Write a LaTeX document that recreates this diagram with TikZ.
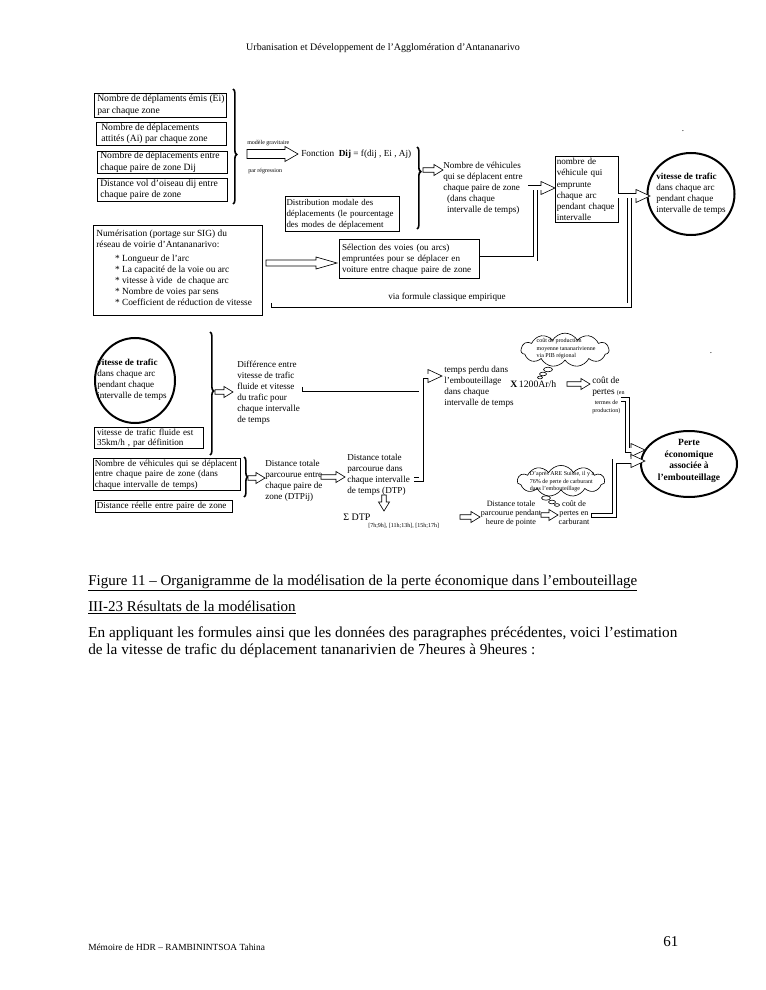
\documentclass[tikz,border=0pt]{standalone}
\usepackage{fontspec}
\setmainfont{Liberation Serif}
\usetikzlibrary{decorations.pathreplacing,shapes.geometric,shapes.symbols}
\newcommand\dg{\fontsize{7.3}{8.8}\selectfont}
\newcommand\tb{\fontsize{7.7}{9.2}\selectfont}
\newcommand\tn{\fontsize{4.8}{6}\selectfont}
\newcommand\bd{\fontsize{12}{14}\selectfont}
\newcommand\sarr[3]{\draw[fill=white,line width=0.5pt,shift={#1},rotate=#3] (0,-2.3) -- ({#2-9},-2.3) -- ({#2-9},-5.5) -- (#2,0) -- ({#2-9},5.5) -- ({#2-9},2.3) -- (0,2.3) -- cycle;}
\newcommand\ahead[2]{\draw[fill=white,line width=0.5pt,shift={#1},rotate=#2] (0,-2.2) -- (0,-6.5) -- (14,0) -- (0,6.5) -- (0,2.2);}
\tikzset{
 box/.style={draw, line width=0.8pt, anchor=north west, inner xsep=2pt, inner ysep=0pt, align=left, font=\dg},
 frame/.style={draw, line width=0.8pt, anchor=north west, inner sep=0pt},
 txt/.style={anchor=north west, inner sep=0pt, align=left, font=\dg},
 pipe/.style={double=white, double distance=3pt, line width=0.5pt},
 brc/.style={decorate, line width=1.3pt},
 bubble/.style={draw, line width=0.9pt, ellipse, inner sep=0pt},
 thought/.style={draw, line width=0.5pt, cloud, cloud puffs=11, cloud puff arc=120, inner sep=0pt},
}
\begin{document}
\begin{tikzpicture}[x=0.8pt,y=-0.8pt]
\useasboundingbox[fill=white] (0,0) rectangle (765,990);

% header
\node[font=\fontsize{8}{9}\selectfont, inner sep=0] (hdr) at (383,48) {Urbanisation et Développement de l'Agglomération d'Antananarivo};

% ---------- upper chart ----------
\node[frame, minimum width=105.6pt, minimum height=19.2pt] (b1) at (94,93) {};
\node[txt, anchor=west, font=\tb] (b1t) at (97,105) {Nombre de déplaments émis (Ei)\\par chaque zone};
\node[frame, minimum width=104pt, minimum height=18.4pt] (b2) at (96,122) {};
\node[txt, anchor=west, font=\tb] (b2t) at (101,133.5) {Nombre de déplacements\\attités (Ai) par chaque zone};
\node[frame, minimum width=104pt, minimum height=17.6pt] (b3) at (97,151) {};
\node[txt, anchor=west, font=\tb] (b3t) at (100,162) {Nombre de déplacements entre\\chaque paire de zone Dij};
\node[frame, minimum width=104pt, minimum height=18.4pt] (b4) at (97,178) {};
\node[txt, anchor=west, font=\tb] (b4t) at (100,189.5) {Distance vol d'oiseau dij entre\\chaque paire de zone};

\draw[brc, decoration={brace, amplitude=3pt, aspect=0.57}] (233,89) -- (233,204);

\node[font=\tn, anchor=west, inner sep=0] (mg) at (247,143) {modèle gravitaire};
\node[font=\tn, anchor=west, inner sep=0] (pr) at (248,171) {par régression};
\draw[fill=white, line width=0.5pt] (247,149.5) -- (285,149.5) -- (285,146.5) -- (298,154) -- (285,161.5) -- (285,158.5) -- (247,158.5) -- cycle;
\node[txt, anchor=west, font=\fontsize{7.4}{9}\selectfont] (fn) at (301,154) {Fonction\ \ \textbf{Dij} = f(dij , Ei , Aj)};

\node[box, minimum width=91.2pt, text width=89.6pt, inner xsep=0.8pt, minimum height=28pt, font=\fontsize{7.1}{8.8}\selectfont] (dm) at (285,196) {Distribution modale des\\déplacements (le pourcentage\\des modes de déplacement};

\draw[brc, decoration={brace, amplitude=3pt, aspect=0.3}] (417,147) -- (417,229);
\sarr{(423,170)}{20}{0}

\node[txt] (nv) at (443,161.7) {Nombre de véhicules\\qui se déplacent entre\\chaque paire de zone\\\hspace*{3pt}(dans chaque\\\hspace*{3pt}intervalle de temps)};

\node[box, minimum width=50.4pt, text width=48.4pt, inner xsep=1pt, minimum height=52.8pt, font=\fontsize{7.3}{8.9}\selectfont] (nbv) at (555,156) {nombre de\\véhicule qui\\emprunte\\chaque arc\\pendant chaque\\intervalle};

\node[bubble, line width=1.6pt, minimum width=69.6pt, minimum height=65.6pt] (c1) at (691,194) {};
\node[font=\dg, align=left, inner sep=0] (c1t) at (691,193.5) {\textbf{vitesse de trafic}\\dans chaque arc\\pendant chaque\\intervalle de temps};

\node[frame, minimum width=135.2pt, minimum height=72pt] (num) at (93,225) {};
\node[txt, font=\fontsize{7.5}{8.8}\selectfont] (numt) at (96,229.5) {Numérisation (portage sur SIG) du\\réseau de voirie d'Antananarivo:\\[2.5pt]
\hspace*{15pt}* Longueur de l'arc\\\hspace*{15pt}* La capacité de la voie ou arc\\\hspace*{15pt}* vitesse à vide\ \ de chaque arc\\\hspace*{15pt}* Nombre de voies par sens\\\hspace*{15pt}* Coefficient de réduction de vitesse};

\draw[fill=white, line width=0.5pt] (266,260) -- (316,260) -- (316,257) -- (337,263) -- (316,269) -- (316,266) -- (266,266) -- cycle;

\node[box, minimum width=112pt, text width=108pt, minimum height=31.2pt] (sel) at (339,239) {Sélection des voies (ou arcs)\\empruntées pour se déplacer en\\voiture entre chaque paire de zone};

\node[font=\dg, inner sep=0] (via) at (447,297) {via formule classique empirique};

% pipes upper
\coordinate (ja) at (535.5,188);
\coordinate (jb) at (629.5,196);
\draw[pipe] (528,188) -- (541,188) (sel.east) -| (ja);
\ahead{(541,188)}{0}
\draw[pipe] (618,196) -- (636,196) (271,305) -| (jb);
\draw[line width=0.5pt] (271,302.8) -- (271,307.2);
\ahead{(636,196)}{0}

\node[font=\dg, inner sep=0] (dot1) at (683,131) {.};

% ---------- lower chart ----------
\node[bubble, line width=1.6pt, minimum width=64pt, minimum height=68pt] (c2) at (135,380.5) {};
\node[txt] (c2t) at (97,358.7) {\textbf{vitesse de trafic}\\dans chaque arc\\pendant chaque\\intervalle de temps};

\node[box, minimum width=87.2pt, text width=83.2pt, minimum height=16.8pt, font=\fontsize{7.3}{8}\selectfont] (vf) at (94,427) {vitesse de trafic fluide est\\35km/h , par définition};

\draw[brc, decoration={brace, amplitude=3pt, aspect=0.48}] (210,332) -- (210,455);
\sarr{(215,392)}{18}{0}

\node[txt] (df) at (237,360.7) {Différence entre\\vitesse de trafic\\fluide et vitesse\\du trafic pour\\chaque intervalle\\de temps};

\node[txt] (tp) at (444,365.7) {temps perdu dans\\l'embouteillage\\dans chaque\\intervalle de temps};

\node[thought, minimum width=70.4pt, minimum height=27pt] (cl1) at (565,350) {};
\node[font=\tn, align=left, inner sep=0] (cl1t) at (566,349) {coût de production\\moyenne tananarivienne\\via PIB régional};
\draw[line width=0.5pt] (548,369.5) ellipse (4.5 and 2.3);
\draw[line width=0.5pt] (543,374) ellipse (3.5 and 1.8);
\draw[line width=0.5pt] (540,377.5) ellipse (2.5 and 1.4);

\node[font=\fontsize{7.8}{9}\selectfont, anchor=west, inner sep=0] (x12) at (510,384) {\textbf{X}\,1200Ar/h};
\sarr{(567,384)}{23}{0}
\node[txt, font=\fontsize{7.5}{9}\selectfont] (cp) at (592,376.7) {coût de\\pertes {\tn (en}\\[-1.5pt]{\tn\hspace*{2pt}termes de}\\[-2pt]{\tn production)}};

\node[bubble, line width=1.6pt, minimum width=76.8pt, minimum height=52.8pt] (pe) at (689,464) {};
\node[font=\fontsize{7.6}{9.3}\selectfont\bfseries, align=center, inner sep=0] (pet) at (689,461) {Perte\\économique\\associée à\\l'embouteillage};

\node[font=\dg, inner sep=0] (dot2) at (711,353) {.};

\node[box, minimum width=117.6pt, text width=115.6pt, inner xsep=1pt, minimum height=25.6pt, font=\fontsize{7.3}{8.4}\selectfont] (nvd) at (93,458) {Nombre de véhicules qui se déplacent\\entre chaque paire de zone (dans\\chaque intervalle de temps)};
\node[box, minimum width=109.6pt, text width=107.6pt, inner xsep=1pt, minimum height=9.6pt] (dr) at (95,500) {Distance réelle entre paire de zone};

\draw[brc, decoration={brace, amplitude=3pt, aspect=0.5}] (244,457) -- (244,497);
\sarr{(248,478)}{17}{0}
\node[txt] (dij) at (265,459.7) {Distance totale\\parcourue entre\\chaque paire de\\zone (DTPij)};
\sarr{(321,477)}{24}{0}
\node[txt] (dtp) at (347,453.7) {Distance totale\\parcourue dans\\chaque intervalle\\de temps (DTP)};

% pipes lower
\coordinate (jc) at (421,376);
\draw[pipe] (302,389) -- (421,389) (414,479.5) -| (jc) -- (428,376);
\draw[line width=0.5pt] (302,386.8) -- (302,391.2);
\ahead{(428,376)}{0}

\sarr{(384,495)}{16}{-90}
\node[font=\fontsize{8}{9}\selectfont, anchor=west, inner sep=0] (sig) at (343,517) {Σ DTP};
\node[font=\tn, anchor=west, inner sep=0] (brk) at (368,526) {[7h;9h], [11h;13h], [15h;17h]};
\sarr{(460,517)}{20}{0}

\node[thought, minimum width=70pt, minimum height=25pt] (cl2) at (561,481) {};
\node[font=\tn, align=left, inner sep=0] (cl2t) at (562,482) {D'après ARE Suisse, il y a\\76\% de perte de carburant\\dans l'embouteillage};
\draw[line width=0.5pt] (546,498) ellipse (4.5 and 2.2);
\draw[line width=0.5pt] (552,502) ellipse (3.5 and 1.8);
\draw[line width=0.5pt] (557,505) ellipse (2.5 and 1.4);

\node[txt, anchor=north, align=center, font=\fontsize{6.5}{7.3}\selectfont] (hp) at (511,500.5) {Distance totale\\parcourue pendant\\heure de pointe};
\sarr{(541,515)}{17}{0}
\node[txt, anchor=north, align=center, font=\fontsize{6.5}{7.3}\selectfont] (cc) at (574,500.5) {coût de\\pertes en\\carburant};

\coordinate (jd) at (627.5,450);
\coordinate (je) at (614.5,461);
\draw[pipe] (621,399.5) -| (jd) -- (631,450);
\ahead{(631,450)}{0}
\draw[pipe] (591,515.5) -| (je) -- (631,461);
\draw[line width=0.5pt] (591,513.3) -- (591,517.7);
\ahead{(631,461)}{0}

% ---------- text ----------
\node[font=\bd, anchor=base west, inner sep=0] (cap) at (88,585) {\underline{Figure 11 – Organigramme de la modélisation de la perte économique dans l’embouteillage}};
\node[font=\bd, anchor=base west, inner sep=0] (sec) at (88,611) {\underline{III-23 Résultats de la modélisation}};
\node[font=\fontsize{12.2}{14}\selectfont, anchor=base west, inner sep=0] (p1) at (88,637) {En appliquant les formules ainsi que les données des paragraphes précédentes, voici l’estimation};
\node[font=\fontsize{12.2}{14}\selectfont, anchor=base west, inner sep=0] (p2) at (88,654) {de la vitesse de trafic du déplacement tananarivien de 7heures à 9heures :};

\node[font=\fontsize{7.5}{9}\selectfont, anchor=base west, inner sep=0] (ft) at (88,950) {Mémoire de HDR – RAMBININTSOA Tahina};
\node[font=\bd, anchor=base west, inner sep=0] (pg) at (663,946) {61};
\end{tikzpicture}
\end{document}
